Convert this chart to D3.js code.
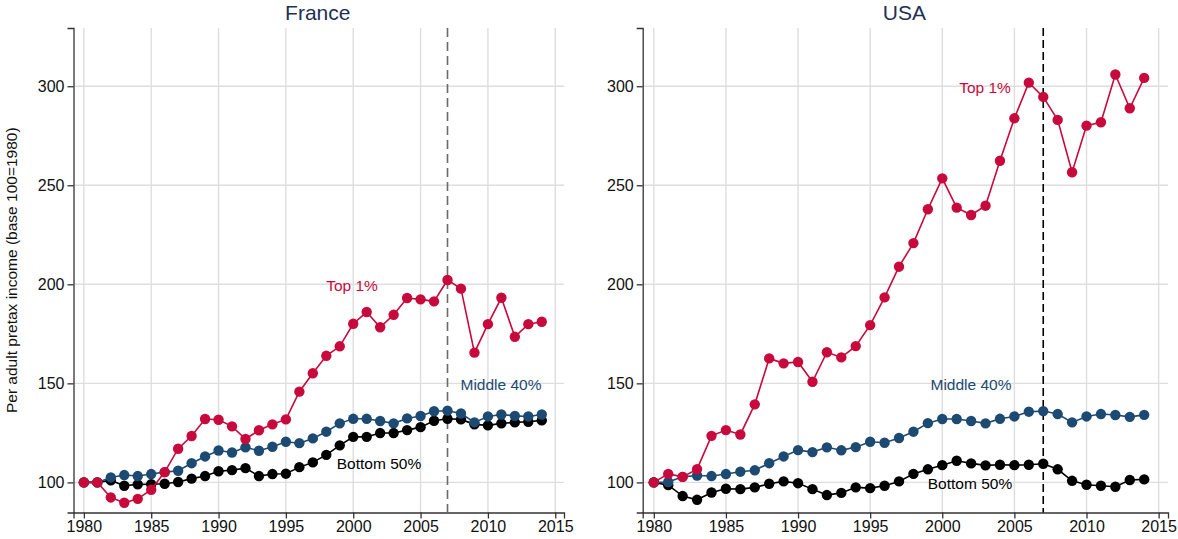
<!DOCTYPE html>
<html>
<head>
<meta charset="utf-8">
<script src="https://cdn.jsdelivr.net/npm/d3@7"></script>
<style>
  body { margin: 0; background: #fff; }
  svg { font-family: "Liberation Sans", Arial, sans-serif; }
</style>
</head>
<body>
<svg id="chart" width="1178" height="539"></svg>
<script>
var years = d3.range(1980, 2015);

var franceTop1 = [100, 100, 92.4, 89.7, 91.7, 96.3, 105.2, 117, 123.4, 132, 131.6, 128.3, 121.9, 126.3, 129.3, 131.8,
  145.8, 155.1, 163.9, 168.7, 180.1, 186, 178.3, 184.6, 193.1, 192.4, 191.4, 202.2, 197.8, 165.5, 179.9, 193.2, 173.5, 179.9, 181.1];
var franceMiddle40 = [100, 100, 102.5, 103.7, 103.2, 104.2, 105.2, 105.9, 109.7, 113.1, 116.1, 115.1, 117.7, 116, 118, 120.5,
  119.8, 122.2, 125.6, 129.8, 132.1, 132.1, 131, 129.8, 132.3, 133.5, 135.9, 136.2, 134.8, 130.3, 133.3, 134.3, 133.6, 133.3, 134.3];
var franceBottom50 = [100, 100, 101, 98.3, 99, 99.1, 99.3, 100.2, 101.9, 103.2, 105.6, 106.2, 107.2, 103.2, 104.2, 104.4,
  107.7, 110.1, 113.9, 118.7, 123, 123, 124.9, 124.9, 126.4, 127.9, 131.1, 132.1, 131.8, 129.3, 128.8, 129.8, 130.3, 130.6, 131.3];

var usaTop1 = [100, 104.3, 102.8, 106.7, 123.5, 126.4, 124.2, 139.4, 162.6, 160.1, 160.8, 150.8, 165.7, 163.1, 168.8, 179.4,
  193.4, 208.9, 220.8, 237.9, 253.5, 238.7, 235, 239.7, 262.4, 283.8, 301.8, 294.6, 283, 256.6, 280.1, 281.8, 305.9, 288.9, 304.2];
var usaMiddle40 = [100, 100.2, 102.8, 103.5, 103.2, 104.2, 105.4, 106.1, 109.7, 113.1, 116.3, 115.3, 117.7, 116.2, 117.8, 120.5,
  120, 122.4, 125.6, 129.9, 132, 132, 131, 129.8, 132.1, 133.3, 135.7, 136, 134.5, 130.3, 133.3, 134.5, 134, 133.1, 134.1];
var usaBottom50 = [100, 98.6, 93.1, 91.2, 94.9, 96.8, 96.6, 97.5, 99.3, 100.5, 99.6, 96.6, 93.6, 94.7, 97.5, 97.1,
  98.3, 100.5, 104.3, 106.6, 108.7, 110.9, 109.6, 108.6, 108.9, 108.7, 108.9, 109.4, 106.6, 100.8, 98.8, 98.3, 97.8, 101.2, 101.5];

var yTicks = [100, 150, 200, 250, 300];
var xTicks = [1980, 1985, 1990, 1995, 2000, 2005, 2010, 2015];
var groupNames = ["Top 1%", "Middle 40%", "Bottom 50%"];
var colors = ["#c70a3b", "#1d4a73", "#000000"];
var crisisYear = 2007;

var panels = [
  { title: "France", series: [franceTop1, franceMiddle40, franceBottom50], left: 73.5, right: 564,
    crisisColor: "#6a6a6a", crisisDash: "9,5",
    labels: [{ x: 352, y: 286 }, { x: 501, y: 385 }, { x: 379, y: 464 }] },
  { title: "USA", series: [usaTop1, usaMiddle40, usaBottom50], left: 642.7, right: 1168,
    crisisColor: "#000", crisisDash: "8,4",
    labels: [{ x: 985, y: 88 }, { x: 971, y: 385 }, { x: 970, y: 484 }] }
];

var svg = d3.select("#chart"),
    plotTop = 28,
    plotBottom = 512.5;

var y = d3.scaleLinear().domain([84.8, 329.4]).range([plotBottom, plotTop]);

panels.forEach(function (p) {
  var x = d3.scaleLinear().domain([1979.23, 2015.65]).range([p.left, p.right]);
  var g = svg.append("g");

  // grid
  g.selectAll(".hgrid").data(yTicks).enter().append("line")
      .attr("x1", p.left).attr("x2", p.right)
      .attr("y1", function (d) { return y(d); }).attr("y2", function (d) { return y(d); })
      .attr("stroke", "#dedede").attr("stroke-width", 1.4);
  g.selectAll(".vgrid").data(xTicks).enter().append("line")
      .attr("x1", function (d) { return x(d); }).attr("x2", function (d) { return x(d); })
      .attr("y1", plotTop).attr("y2", plotBottom)
      .attr("stroke", "#dedede").attr("stroke-width", 1.4);

  // axes
  var yAxis = g.append("g").attr("transform", "translate(" + p.left + ",0)")
      .call(d3.axisLeft(y).tickValues(yTicks).tickSize(6).tickPadding(3));
  var xAxis = g.append("g").attr("transform", "translate(0," + plotBottom + ")")
      .call(d3.axisBottom(x).tickValues(xTicks).tickFormat(d3.format("d")).tickSize(6).tickPadding(2));
  [yAxis, xAxis].forEach(function (a) {
    a.attr("font-size", 16).attr("font-family", "Liberation Sans, Arial, sans-serif");
    a.select(".domain").attr("stroke", "#333").attr("stroke-width", 1.3);
    a.selectAll(".tick line").attr("stroke", "#333").attr("stroke-width", 1.3);
    a.selectAll(".tick text").attr("fill", "#111");
  });

  // crisis line
  g.append("line")
      .attr("x1", x(crisisYear)).attr("x2", x(crisisYear))
      .attr("y1", plotTop).attr("y2", plotBottom)
      .attr("stroke", p.crisisColor).attr("stroke-width", 1.6)
      .attr("stroke-dasharray", p.crisisDash);

  // series, drawn bottom first so top 1% sits over the others
  var line = d3.line()
      .x(function (d, i) { return x(years[i]); })
      .y(function (d) { return y(d); });

  [2, 1, 0].forEach(function (k) {
    var s = p.series[k];
    g.append("path").datum(s)
        .attr("d", line).attr("fill", "none")
        .attr("stroke", colors[k]).attr("stroke-width", 1.6);
    g.selectAll(".pt" + k).data(s).enter().append("circle")
        .attr("cx", function (d, i) { return x(years[i]); })
        .attr("cy", function (d) { return y(d); })
        .attr("r", 5.2)
        .attr("fill", colors[k]);
  });

  // group labels
  p.labels.forEach(function (l, k) {
    g.append("text")
        .attr("x", l.x).attr("y", l.y).attr("dy", "0.35em")
        .attr("text-anchor", "middle")
        .attr("font-size", 15.5).attr("fill", colors[k])
        .text(groupNames[k]);
  });

  // title
  g.append("text")
      .attr("x", (p.left + p.right) / 2 - 1).attr("y", 20)
      .attr("text-anchor", "middle")
      .attr("font-size", 21).attr("fill", "#1f2f55")
      .text(p.title);
});

svg.append("text")
    .attr("transform", "translate(17," + (plotTop + plotBottom) / 2 + ") rotate(-90)")
    .attr("text-anchor", "middle")
    .attr("font-size", 15.5).attr("fill", "#111")
    .text("Per adult pretax income (base 100=1980)");
</script>
</body>
</html>
